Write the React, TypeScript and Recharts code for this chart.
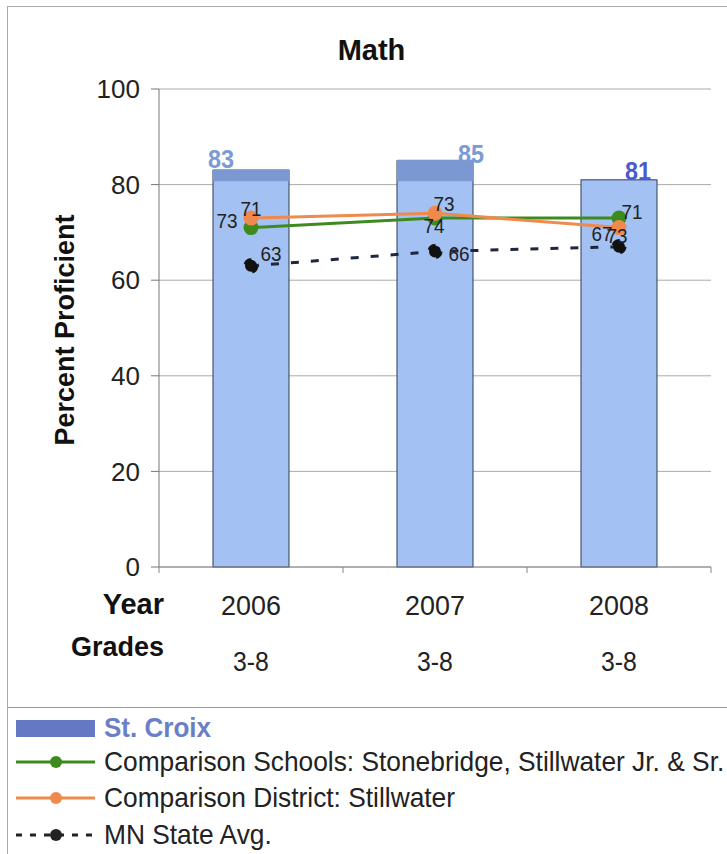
import React from "react";
import {
  ComposedChart,
  Bar,
  Line,
  XAxis,
  YAxis,
  CartesianGrid,
  LabelList,
} from "recharts";

const years = ["2006", "2007", "2008"];
const grades = ["3-8", "3-8", "3-8"];
const stCroix = [83, 85, 81];
const comparisonSchools = [71, 73, 73];
const comparisonDistrict = [73, 74, 71];
const mnStateAvg = [63, 66, 67];
const yTicks = [0, 20, 40, 60, 80, 100];

const seriesNames = {
  stCroix: "St. Croix",
  schools: "Comparison Schools: Stonebridge, Stillwater Jr. & Sr.",
  district: "Comparison District: Stillwater",
  state: "MN State Avg.",
};

const FONT = '"Liberation Sans", Arial, sans-serif';
const GREEN = "#3d8b1f";
const ORANGE = "#f08a4c";
const NAVY = "#1e2740";

const PLOT_LEFT = 159;
const PLOT_RIGHT = 711;
const PLOT_BOTTOM = 567;
const BAND = (PLOT_RIGHT - PLOT_LEFT) / years.length;

// labels in the source are swapped between the two comparison lines
const data = years.map((year, i) => ({
  year,
  grade: grades[i],
  stCroix: stCroix[i],
  schools: comparisonSchools[i],
  district: comparisonDistrict[i],
  state: mnStateAvg[i],
}));

const barLabelPos = [
  { dx: -30, dy: -11, color: "#7c9ad6" },
  { dx: 36, dy: -7, color: "#7c9ad6" },
  { dx: 19, dy: -9, color: "#4a5ad0" },
];
const schoolsLabelPos = [
  { dx: -24, dy: -7 },
  { dx: -1, dy: 8 },
  { dx: 13, dy: -6 },
];
const districtLabelPos = [
  { dx: 0, dy: -9 },
  { dx: 9, dy: -10 },
  { dx: -2, dy: 8 },
];
const stateLabelPos = [
  { dx: 20, dy: -12 },
  { dx: 24, dy: 2 },
  { dx: -17, dy: -13 },
];

const makeLabel =
  (pos: { dx: number; dy: number; color?: string }[], bold = false, size = 21) =>
  (props: any) => {
    const { x, y, width, value, index } = props;
    const p = pos[index] || { dx: 0, dy: 0 };
    const cx = width ? x + width / 2 : x;
    return (
      <text
        x={cx + p.dx}
        y={y + p.dy}
        textAnchor="middle"
        dominantBaseline="central"
        fontFamily={FONT}
        fontSize={size}
        fontWeight={bold ? 700 : 400}
        fill={p.color || "#222"}
        transform={`translate(${(cx + p.dx) * 0.1} 0) scale(0.9 1)`}
      >
        {value}
      </text>
    );
  };

const BarShape = (props: any) => {
  const { x, y, width, height, value, index } = props;
  const perUnit = height / value;
  const cap = index < 2 ? Math.max(0, (value - 80.5) * perUnit) : 0;
  return (
    <g>
      <rect x={x} y={y} width={width} height={height} fill="#a3c1f2" stroke="#2d3b55" strokeWidth={1} />
      {cap > 0 && <rect x={x} y={y - 1} width={width} height={cap} fill="#7b98d2" />}
    </g>
  );
};

const YearTick = (props: any) => {
  const { x, index, payload } = props;
  return (
    <g>
      <line x1={x + BAND / 2} x2={x + BAND / 2} y1={PLOT_BOTTOM} y2={PLOT_BOTTOM + 6} stroke="#888" />
      {index === 0 && (
        <line x1={x - BAND / 2} x2={x - BAND / 2} y1={PLOT_BOTTOM} y2={PLOT_BOTTOM + 6} stroke="#888" />
      )}
      <text
        x={x}
        y={PLOT_BOTTOM + 38}
        textAnchor="middle"
        dominantBaseline="central"
        fontFamily={FONT}
        fontSize={28}
        fill="#222"
        transform={`translate(${x * 0.04} 0) scale(0.96 1)`}
      >
        {payload.value}
      </text>
      <text
        x={x}
        y={PLOT_BOTTOM + 95}
        textAnchor="middle"
        dominantBaseline="central"
        fontFamily={FONT}
        fontSize={27}
        fill="#222"
        transform={`translate(${x * 0.08} 0) scale(0.92 1)`}
      >
        {grades[index]}
      </text>
    </g>
  );
};

const LegendLine = ({ color, dashed }: { color: string; dashed?: boolean }) => (
  <svg width={82} height={14} style={{ marginLeft: 15, marginRight: 7, flex: "none" }}>
    <line x1={1} x2={80} y1={7} y2={7} stroke={color} strokeWidth={3} strokeDasharray={dashed ? "6 8" : undefined} />
    <circle cx={41} cy={7} r={6} fill={color} />
  </svg>
);

const rowStyle: React.CSSProperties = {
  position: "absolute",
  left: 0,
  display: "flex",
  alignItems: "center",
  height: 34,
  fontFamily: FONT,
  fontSize: 28,
  color: "#222",
  whiteSpace: "nowrap",
};

const narrow = (scale: number): React.CSSProperties => ({
  display: "inline-block",
  transform: `scaleX(${scale})`,
  transformOrigin: "left center",
});

export default function App() {
  return (
    <div style={{ position: "absolute", left: 0, top: 0, width: 727, height: 854, background: "#fff", overflow: "hidden" }}>
      <div style={{ position: "absolute", left: 7, top: 6, width: 730, height: 700, border: "1px solid #aaa" }} />
      <div style={{ position: "absolute", left: 7, top: 707, width: 730, height: 160, borderLeft: "1px solid #aaa", borderTop: "1px solid #999" }} />

      <div style={{ position: "absolute", left: 0, top: 0 }}>
        <ComposedChart width={727} height={690} data={data} margin={{ top: 89, right: 16, bottom: 8, left: 99 }}>
          <CartesianGrid vertical={false} stroke="#aaa" />
          <XAxis dataKey="year" height={115} tickLine={false} axisLine={{ stroke: "#888" }} tick={<YearTick />} interval={0} />
          <YAxis
            domain={[0, 100]}
            ticks={yTicks}
            width={60}
            tickSize={8}
            tickMargin={11}
            axisLine={{ stroke: "#777" }}
            tickLine={{ stroke: "#777" }}
            tick={{ fontFamily: FONT, fontSize: 26, fill: "#222" }}
          />
          <YAxis yAxisId="r" orientation="right" width={0} tick={false} tickLine={false} axisLine={{ stroke: "#888" }} />
          <Bar dataKey="stCroix" name={seriesNames.stCroix} barSize={76} shape={<BarShape />} isAnimationActive={false}>
            <LabelList dataKey="stCroix" content={makeLabel(barLabelPos, true, 26)} />
          </Bar>
          <Line
            type="linear"
            dataKey="schools"
            name={seriesNames.schools}
            stroke={GREEN}
            strokeWidth={3}
            dot={{ r: 6, fill: GREEN, stroke: GREEN }}
            isAnimationActive={false}
          >
            <LabelList dataKey="district" content={makeLabel(schoolsLabelPos)} />
          </Line>
          <Line
            type="linear"
            dataKey="district"
            name={seriesNames.district}
            stroke={ORANGE}
            strokeWidth={3}
            dot={{ r: 6, fill: ORANGE, stroke: ORANGE }}
            isAnimationActive={false}
          >
            <LabelList dataKey="schools" content={makeLabel(districtLabelPos)} />
          </Line>
          <Line
            type="linear"
            dataKey="state"
            name={seriesNames.state}
            stroke={NAVY}
            strokeWidth={3}
            strokeDasharray="8 12"
            dot={{ r: 6, fill: "#111", stroke: "#111" }}
            isAnimationActive={false}
          >
            <LabelList dataKey="state" content={makeLabel(stateLabelPos)} />
          </Line>
        </ComposedChart>
      </div>

      <div style={{ position: "absolute", left: 0, width: 743, top: 34, textAlign: "center", fontFamily: FONT, fontWeight: 700, fontSize: 29, color: "#111" }}>
        Math
      </div>
      <div
        style={{
          position: "absolute",
          left: 65,
          top: 330,
          transform: "translate(-50%, -50%) rotate(-90deg)",
          fontFamily: FONT,
          fontWeight: 700,
          fontSize: 27,
          color: "#111",
          whiteSpace: "nowrap",
        }}
      >
        Percent Proficient
      </div>
      <div style={{ position: "absolute", right: 727 - 164, top: 588, fontFamily: FONT, fontWeight: 700, fontSize: 29, color: "#111" }}>Year</div>
      <div style={{ position: "absolute", right: 727 - 164, top: 632, fontFamily: FONT, fontWeight: 700, fontSize: 27, color: "#111" }}>Grades</div>

      <div style={{ ...rowStyle, top: 711 }}>
        <div style={{ width: 79, height: 17, background: "#6479c2", marginLeft: 16, marginRight: 9 }} />
        <span style={{ ...narrow(0.93), fontWeight: 700, color: "#6a7fc8" }}>{seriesNames.stCroix}</span>
      </div>
      <div style={{ ...rowStyle, top: 745 }}>
        <LegendLine color={GREEN} />
        <span style={narrow(0.94)}>{seriesNames.schools}</span>
      </div>
      <div style={{ ...rowStyle, top: 781 }}>
        <LegendLine color={ORANGE} />
        <span style={narrow(0.94)}>{seriesNames.district}</span>
      </div>
      <div style={{ ...rowStyle, top: 818 }}>
        <LegendLine color="#222" dashed />
        <span style={narrow(0.94)}>{seriesNames.state}</span>
      </div>
    </div>
  );
}
